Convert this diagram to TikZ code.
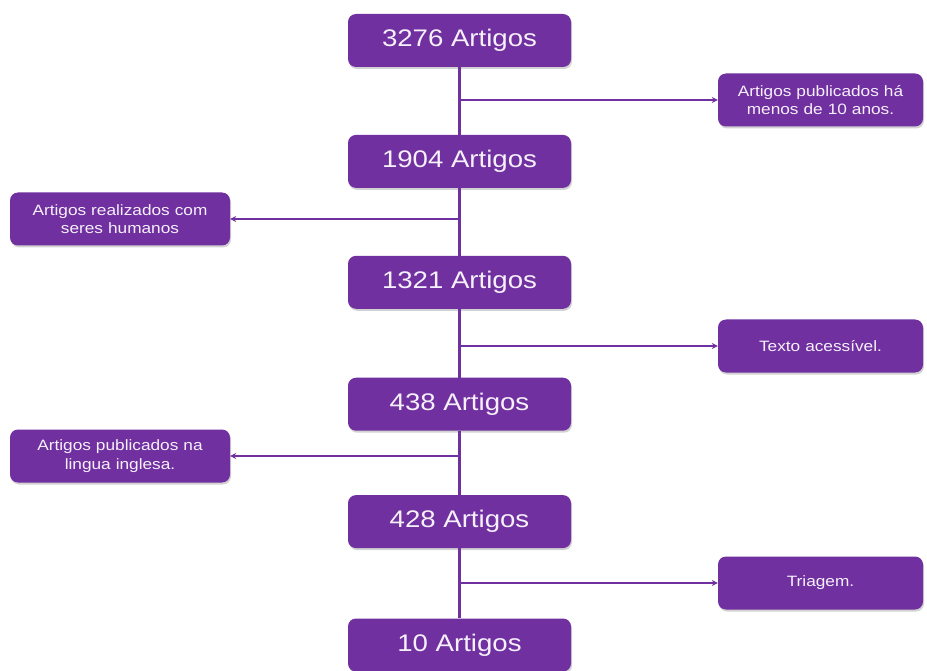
\documentclass[tikz,border=0pt]{standalone}
\usepackage{fontspec}
\setmainfont{Liberation Sans}
\newfontfamily\fonteCaixa[FakeStretch=1.15]{Liberation Sans}
\usepackage{tikz}
\usetikzlibrary{arrows.meta, positioning, shadows}
\definecolor{roxoCaixa}{HTML}{7030A0}
\definecolor{textoCaixa}{HTML}{F6F0FA}

\begin{document}
\begin{tikzpicture}[x=1pt, y=-1pt,
        etapa/.style={fill=roxoCaixa, rounded corners=8pt, minimum width=223pt, minimum height=53pt,
            text=textoCaixa, font=\fonteCaixa\fontsize{24}{27}\selectfont,
            drop shadow={opacity=0.35, shadow xshift=1pt, shadow yshift=-2pt}},
        filtro/.style={fill=roxoCaixa, rounded corners=8pt, minimum width=205pt, minimum height=53pt,
            text width=195pt, align=center, text=textoCaixa,
            font=\fonteCaixa\fontsize{15}{18.5}\selectfont,
            drop shadow={opacity=0.35, shadow xshift=1pt, shadow yshift=-2pt}},
        fluxo/.style={draw=roxoCaixa, line width=2.2pt},
        saida/.style={-{Stealth[length=6pt, width=6pt]}, draw=roxoCaixa, line width=2pt}
    ]
        \useasboundingbox (0,0) rectangle (927,671);
        \fill[white] (0,0) rectangle (927,671);

        \node[etapa] (a1) at (459.5,40.5) {3276 Artigos};
        \node[etapa, below=67.5pt of a1] (a2) {1904 Artigos};
        \node[etapa, below=67.5pt of a2] (a3) {1321 Artigos};
        \node[etapa, below=68.5pt of a3] (a4) {438 Artigos};
        \node[etapa, below=64pt of a4] (a5) {428 Artigos};
        \node[etapa, below=70pt of a5] (a6) {10 Artigos};

        \node[filtro] (f1) at (820.5,100) {Artigos publicados há\\menos de 10 anos.};
        \node[filtro, minimum width=220pt, text width=205pt] (f2) at (120,219) {Artigos realizados com\\seres humanos};
        \node[filtro] (f3) at (820.5,346) {Texto acessível.};
        \node[filtro, minimum width=220pt, text width=205pt] (f4) at (120,456) {Artigos publicados na\\lingua inglesa.};
        \node[filtro] (f5) at (820.5,583) {Triagem.};

        \draw[fluxo] (a1) -- (a2);
        \draw[fluxo] (a2) -- (a3);
        \draw[fluxo] (a3) -- (a4);
        \draw[fluxo] (a4) -- (a5);
        \draw[fluxo] (a5) -- (a6);

        \draw[saida] (a1 |- f1) -- (f1.west);
        \draw[saida] (a2 |- f2) -- (f2.east);
        \draw[saida] (a3 |- f3) -- (f3.west);
        \draw[saida] (a4 |- f4) -- (f4.east);
        \draw[saida] (a5 |- f5) -- (f5.west);
    \end{tikzpicture}
\end{document}
